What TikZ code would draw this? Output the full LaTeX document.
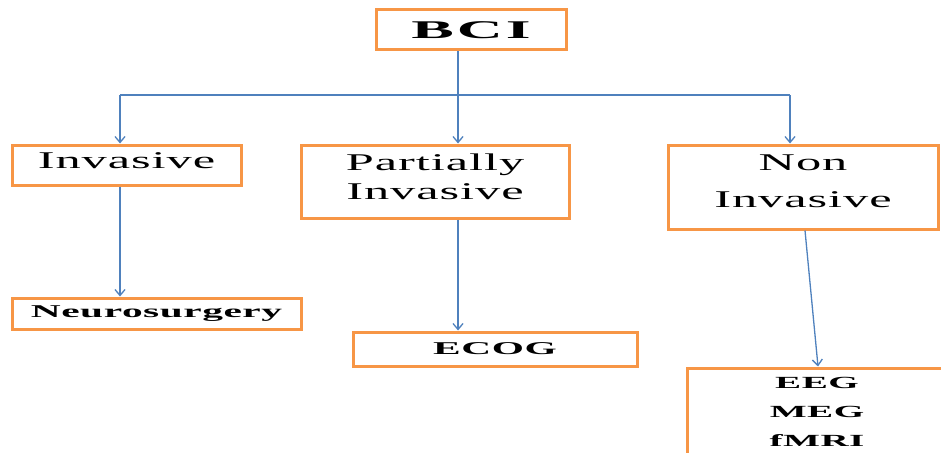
\documentclass[tikz,border=0pt]{standalone}
\usepackage{fontspec}
\setmainfont{Liberation Serif}
\newfontfamily\topfont[FakeStretch=2.5,LetterSpace=12]{Liberation Serif}
\newfontfamily\midfont[FakeStretch=2.1,LetterSpace=4]{Liberation Serif}
\newfontfamily\lowfont[FakeStretch=2.3,LetterSpace=3]{Liberation Serif}
\usetikzlibrary{positioning, arrows.meta}
\definecolor{boxorange}{RGB}{247,150,70}
\definecolor{linkblue}{RGB}{79,129,189}

\begin{document}
\begin{tikzpicture}[x=1pt, y=-1pt,
    box/.style = {draw=boxorange, line width=3pt, fill=white, inner sep=0pt, align=center},
    mid/.style = {box, font=\midfont\fontsize{24}{29}\selectfont},
    low/.style = {box, font=\lowfont\bfseries\fontsize{18}{29}\selectfont},
    link/.style = {draw=linkblue, line width=1.3pt},
    arr/.style = {link, -{Straight Barb[length=6pt, width=10pt]}}]
                \useasboundingbox (0,0) rectangle (941,452);
                % Nodes
                \node[box, minimum width=190, minimum height=40, font=\topfont\bfseries\fontsize{25.5}{26}\selectfont] (bci) at (471,30) {BCI};
                \node[mid, minimum width=229, minimum height=40, text depth=8pt] (inv) at (126.5,165) {Invasive};
                \node[mid, minimum width=268, minimum height=73, text depth=10pt] (part) at (435,181.5) {Partially\\Invasive};
                \node[mid, minimum width=270, minimum height=84, text depth=12pt, font=\midfont\fontsize{24}{37}\selectfont] (non) at (803,187) {Non\\Invasive};
                \node[low, minimum width=289, minimum height=31] (neuro) at (156.5,313.5) {Neurosurgery};
                \node[low, minimum width=284, minimum height=34] (ecog) at (495,349) {ECOG};
                \node[low, minimum width=260, minimum height=88, font=\lowfont\bfseries\fontsize{17}{29}\selectfont] (eeg) at (817,412) {EEG\\MEG\\fMRI};
                
                % Lines
                \coordinate (split) at (458,95);
                \coordinate (left) at (120,95);
                \coordinate (right) at (790,95);
                \draw[link] (split |- bci.south) -- (split);
                \draw[link] (left) -- (right);
                \draw[arr] (left) -- (inv.north -| left);
                \draw[arr] (split) -- (part.north -| split);
                \draw[arr] (right) -- (non.north -| right);
                \draw[arr] (inv.south -| left) -- (neuro.north -| left);
                \draw[arr] (part.south -| split) -- (ecog.north -| split);
                \draw[arr] ([xshift=2pt]non.south) -- ([xshift=1pt]eeg.north);
            \end{tikzpicture}
\end{document}
